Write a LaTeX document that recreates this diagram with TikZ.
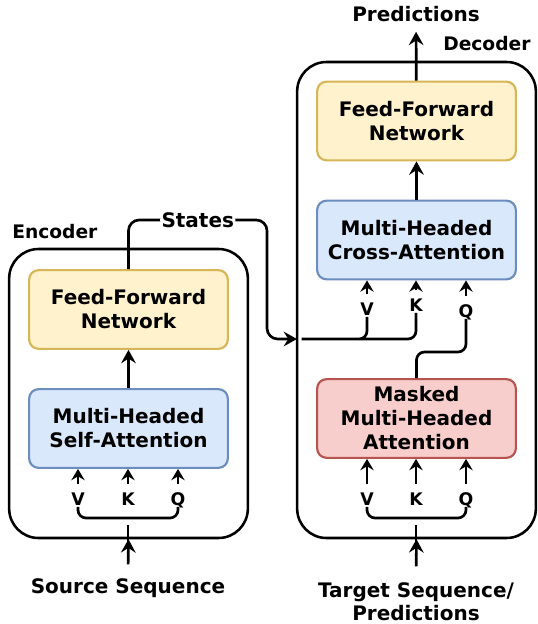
\documentclass[tikz,border=0pt]{standalone}
\usepackage{fontspec}
\setmainfont{DejaVu Sans}
\usetikzlibrary{arrows.meta}

\definecolor{ffnFill}{HTML}{FFF2CC}
\definecolor{ffnLine}{HTML}{D6B656}
\definecolor{attFill}{HTML}{DAE8FC}
\definecolor{attLine}{HTML}{6C8EBF}
\definecolor{maskFill}{HTML}{F8CECC}
\definecolor{maskLine}{HTML}{B85450}

\tikzset{
  block/.style={draw, rounded corners=7pt, line width=1.6pt, minimum width=149pt, minimum height=59pt, align=center, font=\bfseries\fontsize{15}{18}\selectfont},
  ffn/.style={block, draw=ffnLine, fill=ffnFill},
  att/.style={block, draw=attLine, fill=attFill},
  masked/.style={block, draw=maskLine, fill=maskFill},
  frame/.style={draw, line width=1.9pt, rounded corners=22pt, minimum width=179pt},
  wire/.style={line width=2pt},
  arr/.style={wire, -{Stealth[length=10pt,width=11pt,inset=3.5pt]}},
  arrs/.style={wire, -{Stealth[length=8.5pt,width=10pt,inset=3pt]}},
  lbl/.style={font=\bfseries\fontsize{15}{17}\selectfont, align=center},
  vkq/.style={font=\bfseries\fontsize{13}{13}\selectfont, inner sep=1pt, text height=9.5pt, text depth=0pt},
}

\begin{document}
\begin{tikzpicture}[x=0.75pt,y=0.75pt,yscale=-1,xscale=1]
\useasboundingbox (0,0) rectangle (538,624);

% Encoder
\node[frame, minimum height=216.75pt] (enc) at (128.5,393.5) {};
\node[lbl, font=\bfseries\fontsize{14}{17}\selectfont, anchor=west, inner sep=0pt] (encT) at (12,232) {Encoder};
\node[ffn] (effn) at (128.5,309.5) {Feed-Forward\\Network};
\node[att] (esa) at (128.5,428.5) {Multi-Headed\\Self-Attention};
\node[vkq] (vS) at (78,499) {V};
\node[vkq] (kS) at (128,499) {K};
\node[vkq] (qS) at (178,499) {Q};
\coordinate (encJ) at (128,518);
\node[lbl] (src) at (128,588) {Source Sequence};

\draw[arr] (esa) -- (effn);
\foreach \n in {vS,kS,qS}
  \draw[arrs, shorten <=5pt] (\n.north) -- (\n.north |- esa.south);
\draw[wire, rounded corners=6pt] (vS.south) |- (encJ) -| (qS.south);
\draw[wire, shorten <=7pt] (src.north) -- ([yshift=5.5pt]encJ);
\draw[arr, shorten <=7pt] (src.north) -- (enc.south);

% Decoder
\node[frame, minimum height=357pt] (dec) at (416.5,300) {};
\node[lbl, font=\bfseries\fontsize{14}{17}\selectfont, anchor=west, inner sep=0pt] (decT) at (443,44) {Decoder};
\node[ffn] (dffn) at (416.5,121) {Feed-Forward\\Network};
\node[att] (dca) at (416.5,240) {Multi-Headed\\Cross-Attention};
\node[masked] (dma) at (416.5,418.5) {Masked\\Multi-Headed\\Attention};
\node[vkq] (vC) at (367,309) {V};
\node[vkq] (kC) at (416,305) {K};
\node[vkq] (qC) at (466,311) {Q};
\node[vkq] (vT) at (367,499) {V};
\node[vkq] (kT) at (416,499) {K};
\node[vkq] (qT) at (466,499) {Q};
\coordinate (decJ) at (416,518);
\coordinate (qJ) at (441,352);
\node[lbl] (pred) at (416,14) {Predictions};
\node[lbl] (tgt) at (416,602) {Target Sequence/\\Predictions};

\draw[wire, rounded corners=6pt] (dma.north) |- (qJ) -| (qC.south);
\draw[arr] (dca) -- (dffn);
\draw[arr, shorten >=4pt] (dffn) -- (pred);
\foreach \n in {vC,kC,qC}
  \draw[arrs, shorten <=5pt] (\n.north) -- (\n.north |- dca.south);
\foreach \n in {vT,kT,qT}
  \draw[arrs, shorten <=5pt] (\n.north) -- (\n.north |- dma.south);
\draw[wire, rounded corners=6pt] (vT.south) |- (decJ) -| (qT.south);
\draw[wire, shorten <=9pt] (tgt.north) -- ([yshift=5.5pt]decJ);
\draw[arr, shorten <=9pt] (tgt.north) -- (dec.south);

% Encoder states into the cross-attention
\coordinate (stR) at (267,220);
\coordinate (stIn) at (297,339);
\draw[arr, rounded corners=8pt] (effn.north) |- node[pos=0.75, lbl, fill=white, inner sep=1pt] (states) {States} (stR) |- (stIn);
\draw[wire, rounded corners=6pt] (vC.south) |- (stIn) -| (kC.south);

\end{tikzpicture}
\end{document}
